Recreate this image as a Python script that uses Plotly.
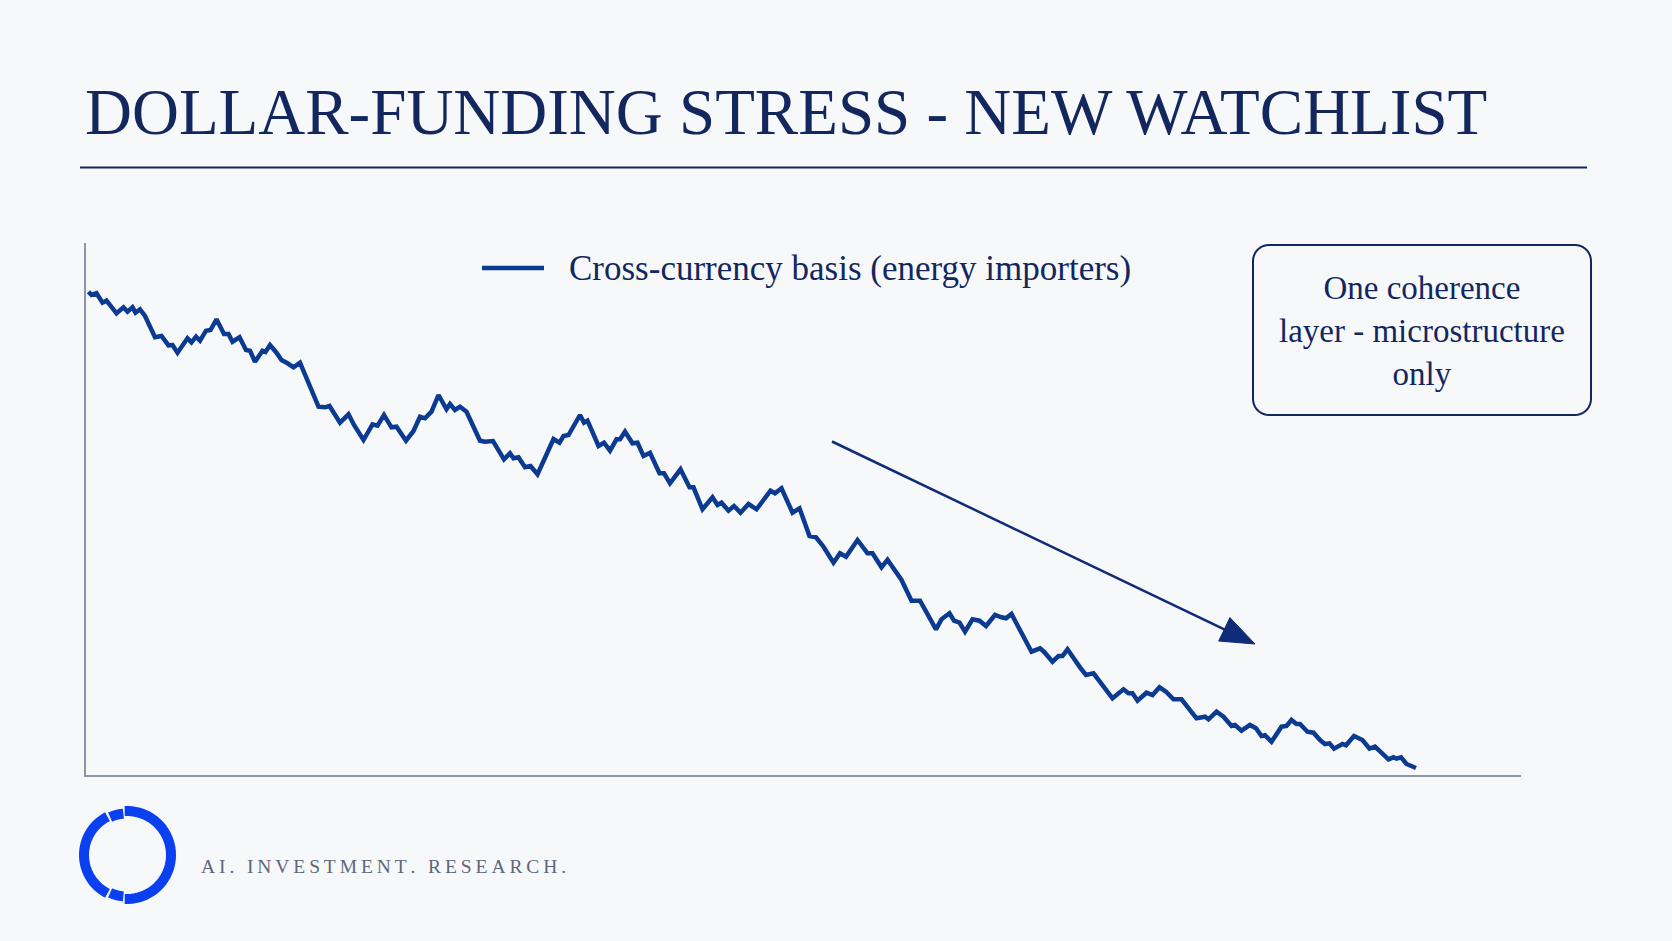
import math
import plotly.graph_objects as go

# ---------------- data ----------------
day = [0.1, 0.7, 1.7, 2.9, 3.7, 5.7, 7.1, 7.9, 8.9, 9.5, 10.4, 11.4, 13.4, 14.7, 16.1, 16.9,
       17.9, 19.9, 20.7, 21.6, 22.4, 23.6, 24.5, 25.7, 27.2, 28.1, 28.9, 30.3, 31.6, 32.4, 33.4,
       34.9, 35.5, 36.4, 37.7, 38.7, 39.9, 41.1, 42.4, 44.4, 46.1, 47.4, 48.3, 50.4, 52.1, 53.2,
       55.1, 56.9, 57.9, 59.2, 60.7, 61.7, 63.6, 65.1, 66.4, 67.4, 68.7, 70.1, 71.7, 72.4, 73.4,
       74.4, 75.7, 78.4, 79.4, 81.0, 83.2, 84.4, 85.1, 86.1, 87.4, 88.5, 89.9, 93.1, 94.3, 95.1,
       96.1, 98.4, 99.2, 99.9, 102.1, 103.2, 104.4, 105.7, 106.4, 107.4, 108.9, 109.9, 111.1,
       112.4, 114.3, 115.2, 116.4, 118.5, 120.3, 121.1, 122.9, 124.9, 125.9, 126.7, 128.1, 129.2,
       130.5, 132.1, 133.7, 135.1, 136.5, 137.4, 138.7, 140.9, 142.3, 144.3, 145.6, 147.1, 149.1,
       150.4, 151.6, 153.9, 155.9, 156.9, 158.7, 159.9, 162.7, 164.7, 166.4, 169.6, 170.7, 172.3,
       173.2, 174.3, 175.4, 176.9, 178.3, 179.6, 181.4, 182.7, 183.6, 184.7, 188.7, 190.4, 191.2,
       192.9, 194.1, 194.9, 195.9, 198.4, 199.6, 201.1, 204.9, 207.1, 208.1, 208.9, 209.9, 211.7,
       212.9, 214.3, 215.6, 217.1, 218.7, 221.7, 223.4, 224.1, 225.7, 227.1, 228.7, 229.4, 230.7,
       232.4, 233.6, 234.7, 235.4, 236.7, 238.7, 239.7, 240.7, 241.7, 242.4, 243.9, 245.1, 246.4,
       247.4, 248.3, 249.2, 250.9, 251.6, 253.2, 254.3, 254.9, 256.3, 257.4, 260.1, 261.1, 261.7,
       262.6, 263.7, 264.5, 265.6]

basis_bp = [-19.97, -20.30, -20.13, -21.07, -20.87, -22.13, -21.53, -21.97, -21.53, -22.07, -21.73,
            -22.40, -24.53, -24.40, -25.33, -25.30, -26.07, -24.63, -25.03, -24.47, -24.87, -23.87,
            -23.80, -22.73, -24.20, -24.20, -24.97, -24.53, -25.80, -25.87, -26.97, -25.87, -26.00,
            -25.30, -26.07, -26.80, -27.13, -27.53, -27.07, -29.47, -31.47, -31.53, -31.40, -33.07,
            -32.23, -33.30, -34.80, -33.23, -33.37, -32.30, -33.53, -33.47, -34.87, -33.90, -32.47,
            -32.63, -31.97, -30.30, -31.73, -31.20, -31.80, -31.47, -31.97, -34.87, -34.97, -34.90,
            -36.73, -36.13, -36.63, -36.53, -37.53, -37.40, -38.23, -34.70, -35.07, -34.40, -34.30,
            -32.30, -33.07, -32.87, -35.40, -35.07, -35.87, -34.73, -34.73, -33.97, -35.13, -35.07,
            -36.40, -36.07, -38.13, -38.13, -39.13, -37.73, -39.53, -39.53, -41.73, -40.53, -41.30,
            -41.07, -41.87, -41.40, -42.07, -41.20, -41.73, -40.80, -39.87, -40.13, -39.63, -42.07,
            -41.63, -44.40, -44.53, -45.47, -47.07, -46.13, -46.47, -44.80, -46.13, -46.13, -47.53,
            -46.77, -48.80, -50.87, -50.87, -53.73, -52.73, -52.13, -52.87, -53.07, -53.97, -52.73,
            -52.87, -53.40, -52.30, -52.53, -52.63, -52.20, -55.97, -55.63, -55.97, -56.97, -56.40,
            -56.40, -55.73, -57.53, -58.30, -58.13, -60.63, -59.73, -60.13, -60.13, -60.87, -60.07,
            -60.30, -59.53, -59.97, -60.73, -60.73, -62.63, -62.47, -62.73, -61.97, -62.47, -63.40,
            -63.30, -63.87, -63.30, -63.63, -64.40, -64.33, -64.97, -63.47, -63.40, -62.80, -63.20,
            -63.20, -63.97, -64.07, -64.80, -65.20, -65.13, -65.67, -65.20, -65.33, -64.40, -64.73,
            -64.80, -65.67, -65.47, -66.73, -66.53, -66.67, -66.53, -67.20, -67.33, -67.60]

series_name = "Cross-currency basis (energy importers)"
title_text = "DOLLAR-FUNDING STRESS - NEW WATCHLIST"
note_lines = ["One coherence", "layer - microstructure", "only"]
footer_text = "AI. INVESTMENT. RESEARCH."

# ---------------- layout constants ----------------
W, H = 1672, 941
BG = "#f7f8fa"
NAVY = "#13275f"
LINE = "#0b3a91"
AXIS = "#8c96a8"
LOGO = "#0a40f0"
SERIF = "Liberation Serif, Times New Roman, serif"


def px(x):
    return x / W


def py(y):
    return 1 - y / H


def poly_path(points, close=False):
    s = "M" + " L".join(f"{px(x):.5f},{py(y):.5f}" for x, y in points)
    return s + (" Z" if close else "")


fig = go.Figure()
fig.add_trace(go.Scatter(x=day, y=basis_bp, mode="lines", name=series_name,
                         line=dict(color=LINE, width=4.5), showlegend=False,
                         hoverinfo="x+y"))

fig.update_layout(
    width=W, height=H,
    margin=dict(l=0, r=0, t=0, b=0),
    paper_bgcolor=BG, plot_bgcolor=BG,
    xaxis=dict(domain=[px(86), px(1521)], range=[-0.4, 286.6], showgrid=False,
               zeroline=False, showticklabels=False, ticks="", showline=True,
               linecolor=AXIS, linewidth=2),
    yaxis=dict(domain=[py(775), py(243)], range=[-68.3, -15.1], showgrid=False,
               zeroline=False, showticklabels=False, ticks="", showline=True,
               linecolor=AXIS, linewidth=2),
)

shapes = []
# rule under the title
shapes.append(dict(type="line", xref="paper", yref="paper", x0=px(80), x1=px(1587),
                   y0=py(167.5), y1=py(167.5), line=dict(color=NAVY, width=2)))
# legend sample line
shapes.append(dict(type="line", xref="paper", yref="paper", x0=px(482), x1=px(544),
                   y0=py(268), y1=py(268), line=dict(color=LINE, width=4.5)))

# rounded note box
bx0, by0, bx1, by1, r = 1253, 245, 1591, 415, 16
pts = []
for cx, cy, a0 in [(bx1 - r, by0 + r, -90), (bx1 - r, by1 - r, 0), (bx0 + r, by1 - r, 90), (bx0 + r, by0 + r, 180)]:
    for k in range(0, 91, 10):
        a = math.radians(a0 + k)
        pts.append((cx + r * math.cos(a), cy + r * math.sin(a)))
shapes.append(dict(type="path", xref="paper", yref="paper", path=poly_path(pts, True),
                   line=dict(color=NAVY, width=2), fillcolor="rgba(0,0,0,0)"))

# trend arrow
ax0, ay0, ax1, ay1 = 832, 441.5, 1255, 644
L = math.hypot(ax1 - ax0, ay1 - ay0)
ux, uy = (ax1 - ax0) / L, (ay1 - ay0) / L
hl, hw = 34, 13
bxc, byc = ax1 - hl * ux, ay1 - hl * uy
shapes.append(dict(type="line", xref="paper", yref="paper", x0=px(ax0), y0=py(ay0),
                   x1=px(bxc + 4 * ux), y1=py(byc + 4 * uy), line=dict(color="#102c78", width=2.5)))
tri = [(ax1, ay1), (bxc - hw * uy, byc + hw * ux), (bxc + hw * uy, byc - hw * ux)]
shapes.append(dict(type="path", xref="paper", yref="paper", path=poly_path(tri, True),
                   line=dict(color="#102c78", width=1), fillcolor="#102c78"))

# logo ring (broken arcs)
lcx, lcy = 127, 855


def arc(rad, a_from, a_to, n=40):
    out = []
    for i in range(n + 1):
        a = math.radians(a_from + (a_to - a_from) * i / n)
        out.append((lcx + rad * math.cos(a), lcy - rad * math.sin(a)))
    return out


for rad, a0, a1 in [(44, -93, 93), (41.5, 95, 114), (43, 117, 243), (41.5, 246, 265)]:
    shapes.append(dict(type="path", xref="paper", yref="paper", path=poly_path(arc(rad, a0, a1)),
                       line=dict(color=LOGO, width=10), fillcolor="rgba(0,0,0,0)"))

fig.update_layout(shapes=shapes)

annotations = [
    dict(text=title_text, x=px(83), y=py(112), xanchor="left", yanchor="middle",
         font=dict(family=SERIF, size=65, color=NAVY)),
    dict(text=series_name, x=px(567), y=py(268), xanchor="left", yanchor="middle",
         font=dict(family=SERIF, size=35, color=NAVY)),
    dict(text="<br>".join(note_lines), x=px(1422), y=py(331), xanchor="center", yanchor="middle",
         align="center", font=dict(family=SERIF, size=33, color=NAVY)),
    dict(text="\u2009".join(footer_text), x=px(199), y=py(866), xanchor="left", yanchor="middle",
         font=dict(family=SERIF, size=19.5, color="#5d677a")),
]
for a in annotations:
    a.update(xref="paper", yref="paper", showarrow=False)
fig.update_layout(annotations=annotations)

fig.write_html("out.html")
